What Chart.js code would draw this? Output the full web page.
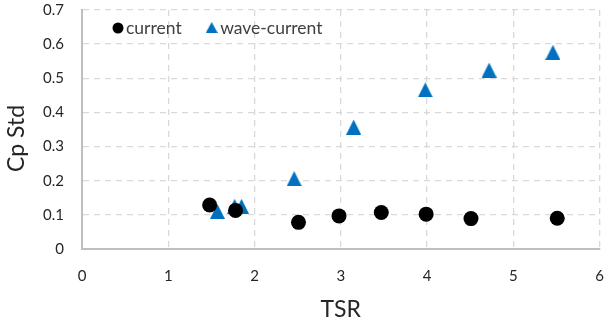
<!DOCTYPE html>
<html>
<head>
<meta charset="utf-8">
<script src="https://cdn.jsdelivr.net/npm/chart.js@4.4.1/dist/chart.umd.min.js"></script>
<style>
  html, body { margin: 0; padding: 0; background: #ffffff; }
  #wrap { width: 607px; height: 329px; position: relative; }
</style>
</head>
<body>
<div id="wrap"><canvas id="chart" width="607" height="329"></canvas></div>
<script>
// Tip-speed ratio vs. standard deviation of the power coefficient
const seriesNames = ['current', 'wave-current'];
const tsrCurrent   = [1.48, 1.78, 2.51, 2.98, 3.47, 3.99, 4.51, 5.51];
const cpStdCurrent = [0.129, 0.113, 0.078, 0.097, 0.107, 0.102, 0.089, 0.090];
const tsrWave      = [1.57, 1.77, 1.85, 2.46, 3.15, 3.98, 4.72, 5.46];
const cpStdWave    = [0.110, 0.125, 0.125, 0.206, 0.357, 0.466, 0.524, 0.576];
const xTickLabels  = ['0', '1', '2', '3', '4', '5', '6'];
const yTickLabels  = ['0', '0.1', '0.2', '0.3', '0.4', '0.5', '0.6', '0.7'];
const xTitle = 'TSR';
const yTitle = 'Cp Std';

const FONT = 'Lato, "Open Sans", "Liberation Sans", sans-serif';
const BLUE = '#0070C0';
const GRID = '#d9d9d9';
const TEXT = '#262626';

// Triangle marker whose bounding box is centred on the data point
function triangleMarker(w, h, color) {
  const c = document.createElement('canvas');
  c.width = w; c.height = h;
  const g = c.getContext('2d');
  g.fillStyle = color;
  g.beginPath();
  g.moveTo(w / 2, 0);
  g.lineTo(w, h);
  g.lineTo(0, h);
  g.closePath();
  g.fill();
  return c;
}
const triBig = triangleMarker(15, 15, BLUE);
const triSmall = triangleMarker(12, 11, BLUE);

const toPoints = (xs, ys) => xs.map((x, i) => ({ x: x, y: ys[i] }));

// Legend drawn inside the plot area, top-left
const insideLegend = {
  id: 'insideLegend',
  afterDraw(chart) {
    const ctx = chart.ctx;
    const area = chart.chartArea;
    const y = area.top + 18;
    let x = area.left + 36;
    ctx.save();
    ctx.font = '17.5px ' + FONT;
    ctx.textBaseline = 'middle';
    // circle entry
    ctx.beginPath();
    ctx.fillStyle = '#000000';
    ctx.arc(x, y, 5.5, 0, Math.PI * 2);
    ctx.fill();
    ctx.fillStyle = '#404040';
    ctx.fillText(chart.data.datasets[0].label, x + 8, y);
    x = x + 8 + ctx.measureText(chart.data.datasets[0].label).width + 30;
    // triangle entry
    ctx.drawImage(triSmall, x - 6, y - 6);
    ctx.fillText(chart.data.datasets[1].label, x + 8.5, y);
    ctx.restore();
  }
};

// Vertical axis title, sitting slightly below the plot's mid-height
const yAxisTitle = {
  id: 'yAxisTitle',
  afterDraw(chart) {
    const ctx = chart.ctx;
    const area = chart.chartArea;
    ctx.save();
    ctx.translate(17, (area.top + area.bottom) / 2 + 9);
    ctx.rotate(-Math.PI / 2);
    ctx.font = '23px ' + FONT;
    ctx.fillStyle = TEXT;
    ctx.textAlign = 'center';
    ctx.textBaseline = 'middle';
    ctx.fillText(yTitle, 0, 0);
    ctx.restore();
  }
};

new Chart(document.getElementById('chart'), {
  type: 'scatter',
  data: {
    datasets: [
      {
        label: seriesNames[0],
        data: toPoints(tsrCurrent, cpStdCurrent),
        pointStyle: 'circle',
        pointRadius: 7.5,
        pointHoverRadius: 7.5,
        backgroundColor: '#000000',
        borderColor: '#000000',
        borderWidth: 0
      },
      {
        label: seriesNames[1],
        data: toPoints(tsrWave, cpStdWave),
        pointStyle: triBig,
        pointRadius: 7.5,
        backgroundColor: BLUE,
        borderColor: BLUE,
        borderWidth: 0
      }
    ]
  },
  options: {
    responsive: false,
    animation: false,
    events: [],
    layout: { padding: 0 },
    plugins: {
      legend: { display: false },
      tooltip: { enabled: false }
    },
    scales: {
      x: {
        type: 'linear',
        min: 0, max: 6,
        ticks: {
          stepSize: 1,
          padding: 18,
          color: TEXT,
          font: { family: FONT, size: 15 },
          callback: (v, i) => xTickLabels[i]
        },
        grid: { color: GRID, lineWidth: 1.3, drawTicks: false },
        border: { display: true, color: '#bfbfbf', width: 2, dash: [6, 5] },
        title: {
          display: true, text: xTitle, color: TEXT,
          font: { family: FONT, size: 23, lineHeight: 1 },
          padding: { top: 0, bottom: 8 }
        },
        afterFit(scale) {
          scale.height = 80;
          scale.paddingLeft = 0;
          scale.paddingRight = 5;
        }
      },
      y: {
        type: 'linear',
        min: 0, max: 0.7,
        ticks: {
          stepSize: 0.1,
          padding: 18,
          color: TEXT,
          font: { family: FONT, size: 15 },
          callback: (v, i) => yTickLabels[i]
        },
        grid: { color: GRID, lineWidth: 1.3, drawTicks: false },
        border: { display: true, color: '#bfbfbf', width: 2, dash: [6, 5] },
        title: { display: false },
        afterFit(scale) {
          scale.width = 82;
          scale.paddingTop = 10;
          scale.paddingBottom = 0;
        }
      }
    }
  },
  plugins: [insideLegend, yAxisTitle]
});
</script>
</body>
</html>
